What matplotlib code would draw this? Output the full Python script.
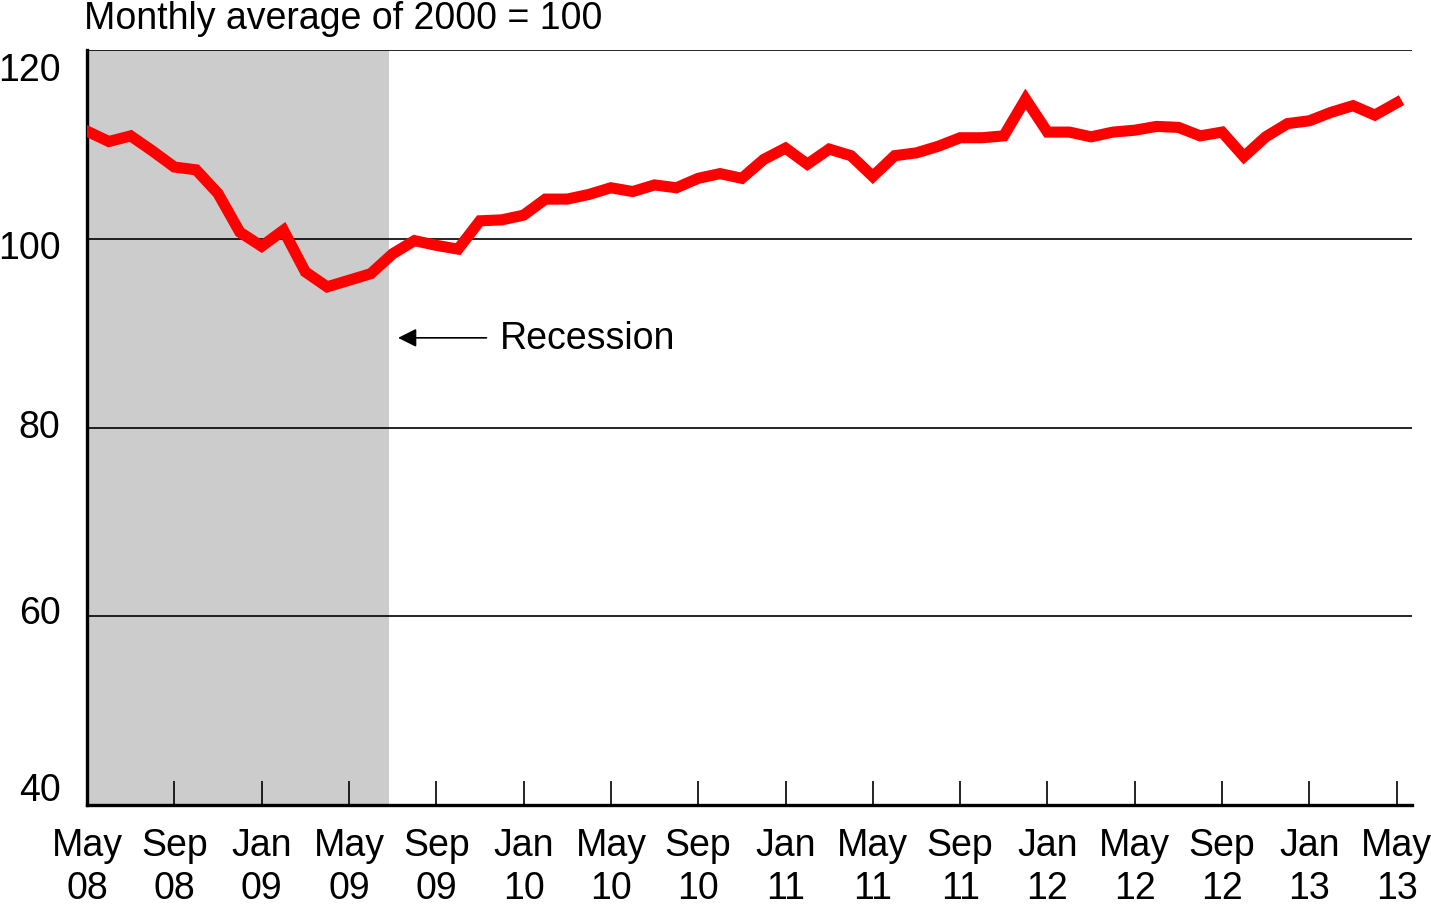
import numpy as np
import matplotlib.pyplot as plt
import matplotlib.transforms as mtransforms

plt.rcParams['font.family'] = ['Liberation Sans', 'DejaVu Sans']

# Monthly index values, May 2008 .. May 2013
values = [111.4, 110.3, 110.9, 109.3, 107.6, 107.3, 104.8, 100.7, 99.2, 100.9,
          96.5, 94.9, 95.6, 96.3, 98.4, 99.8, 99.3, 98.9, 101.9, 102.0,
          102.5, 104.2, 104.2, 104.7, 105.4, 105.0, 105.7, 105.4, 106.4, 106.9,
          106.4, 108.4, 109.6, 107.9, 109.5, 108.8, 106.6, 108.8, 109.1, 109.8,
          110.7, 110.7, 110.9, 114.8, 111.3, 111.3, 110.8, 111.3, 111.5, 111.9,
          111.8, 110.9, 111.3, 108.7, 110.8, 112.2, 112.5, 113.4, 114.1, 113.1,
          114.4]
tick_labels = ['May\n08', 'Sep\n08', 'Jan\n09', 'May\n09', 'Sep\n09', 'Jan\n10',
               'May\n10', 'Sep\n10', 'Jan\n11', 'May\n11', 'Sep\n11', 'Jan\n12',
               'May\n12', 'Sep\n12', 'Jan\n13', 'May\n13']
y_ticks = [40, 60, 80, 100, 120]
recession_end = 13.85

months = np.arange(len(values))

fig = plt.figure(figsize=(14.31, 9.12), dpi=100)
ax = fig.add_axes([0.0608, 0.1162, 0.9259, 0.8279])

# Recession shading
ax.axvspan(0, recession_end, color='#cccccc', zorder=0, lw=0)

# Horizontal grid lines
for y in y_ticks[1:]:
    ax.axhline(y, color='black', lw=1.2, zorder=1)

ax.plot(months, values, color='#ff0000', lw=8, zorder=3, solid_joinstyle='miter')

ax.set_xlim(0, 60.7)
ax.set_ylim(40, 120)

ax.set_xticks(np.arange(0, 61, 4))
ax.set_xticklabels(tick_labels, fontsize=27, linespacing=1.25)
ax.tick_params(axis='x', direction='in', length=17, width=1.2, pad=16)

# y labels drawn by hand, nudged like the original
ax.set_yticks(y_ticks)
ax.set_yticklabels([])
ax.tick_params(axis='y', length=0)
nudge = {120: -14.5, 100: -7, 80: 0.5, 60: 2.5, 40: 10.5}  # points
for v in y_ticks:
    tr = ax.get_yaxis_transform() + mtransforms.ScaledTranslation(
        -19 / 72, nudge[v] / 72, fig.dpi_scale_trans)
    ax.text(0, v, str(v), transform=tr, fontsize=27, ha='right', va='center')

for side in ['top', 'right']:
    ax.spines[side].set_visible(False)
ax.spines['left'].set_linewidth(2.4)
ax.spines['bottom'].set_linewidth(2.4)

# Recession arrow
ax.annotate('', xy=(14.25, 89.5), xytext=(18.3, 89.5),
            arrowprops=dict(arrowstyle='-|>', color='black', lw=1.2,
                            mutation_scale=28, shrinkA=0, shrinkB=0))
ax.text(18.9, 89.5, 'Recession', fontsize=27, va='center', ha='left')

fig.text(84 / 1431, 1 - 19 / 912, 'Monthly average of 2000 = 100',
         fontsize=27, va='center', ha='left')

fig.savefig('out.png', dpi=100)
